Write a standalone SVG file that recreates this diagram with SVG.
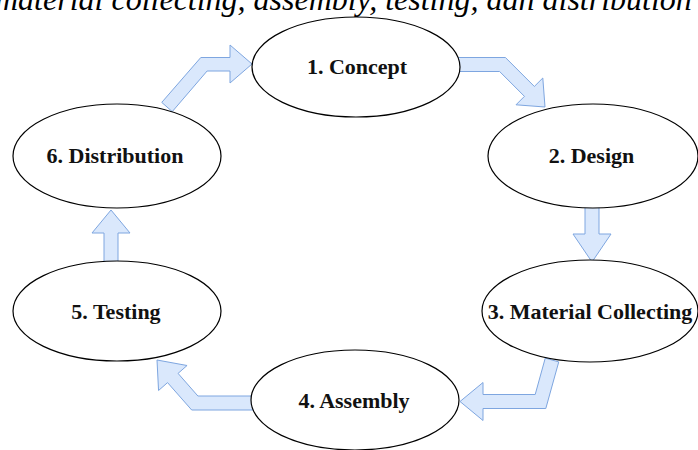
<svg xmlns="http://www.w3.org/2000/svg" width="698" height="450" viewBox="0 0 698 450">
<style>
.node ellipse{fill:#ffffff;stroke:#000000;stroke-width:1.2}
.node text{font-family:"Liberation Serif","Times New Roman",serif;font-weight:bold;font-size:22px;fill:#111111;text-anchor:middle}
.arrow{fill:#dae8fc;stroke:#7ea6e0;stroke-width:1;stroke-linejoin:round}
.caption{font-family:"Liberation Serif","Times New Roman",serif;font-style:italic;font-size:32px;fill:#000000}
</style>
<rect width="698" height="450" fill="#ffffff"/>
<text class="caption" x="-5" y="10">material collecting, assembly, testing, dan distribution</text>
<g id="connectors">
<polygon class="arrow" points="161.75,102.4 200.8,57.5 230,57.5 230,45 252,64 230,83 230,71 207.1,71 172.25,111.6"/>
<polygon class="arrow" points="458,57.5 505.4,57.5 534.35,86.45 542.8,78 545,107 516,104.8 524.45,96.35 499.6,71.5 458,71.5"/>
<polygon class="arrow" points="585,205 599,205 599,234 611,234 592,262 573,234 585,234"/>
<polygon class="arrow" points="545.25,358.1 558.75,361.9 545.8,408.5 483,408.5 483,420.5 460,401.5 483,382.5 483,394.5 535.2,394.5"/>
<polygon class="arrow" points="253,396 197.9,396 178.05,373.4 187.05,365.5 157,360 158.55,390.5 167.55,382.6 191.7,410 253,410"/>
<polygon class="arrow" points="104,262 118,262 118,233 130,233 111,210 92,233 104,233"/>
</g>
<g id="n1" class="node"><ellipse cx="356" cy="67" rx="104" ry="50"/><text x="357" y="74">1. Concept</text></g>
<g id="n2" class="node"><ellipse cx="593" cy="156" rx="105" ry="52"/><text x="591.5" y="163">2. Design</text></g>
<g id="n3" class="node"><ellipse cx="590" cy="311" rx="108" ry="51"/><text x="590" y="319">3. Material Collecting</text></g>
<g id="n4" class="node"><ellipse cx="355" cy="400" rx="104" ry="50"/><text x="354" y="408">4. Assembly</text></g>
<g id="n5" class="node"><ellipse cx="117" cy="311" rx="104" ry="50"/><text x="116" y="319">5. Testing</text></g>
<g id="n6" class="node"><ellipse cx="117" cy="156" rx="104" ry="52"/><text x="115" y="163">6. Distribution</text></g>
</svg>
